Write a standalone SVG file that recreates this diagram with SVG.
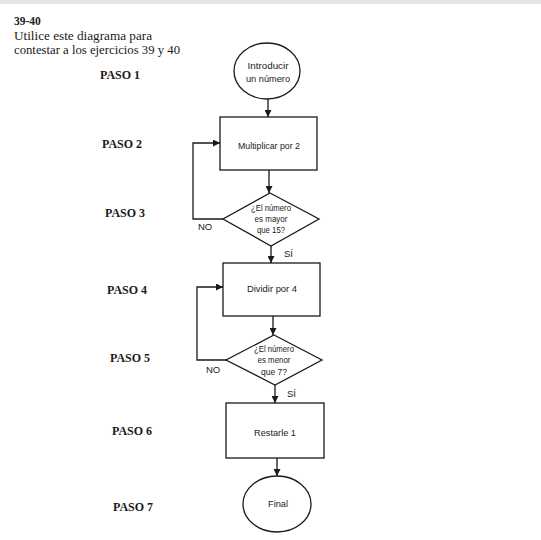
<svg xmlns="http://www.w3.org/2000/svg" width="541" height="540" viewBox="0 0 541 540">
<defs>
<marker id="ah" viewBox="0 0 8 8" refX="8" refY="4" markerWidth="7" markerHeight="7" markerUnits="userSpaceOnUse" orient="auto">
<path d="M0,0 L8,4 L0,8 Z" fill="#1a1a1a"/>
</marker>
<style>
.shape{fill:#ffffff;stroke:#1a1a1a;stroke-width:1.3}
.ln{fill:none;stroke:#1a1a1a;stroke-width:1.3}
.t{font-family:"Liberation Sans",Arial,sans-serif;font-size:9.5px;fill:#1a1a1a;text-anchor:middle}
.paso{font-family:"Liberation Serif","Times New Roman",serif;font-size:12px;font-weight:bold;fill:#1a1a1a}
.hd{font-family:"Liberation Serif","Times New Roman",serif;font-size:11.5px;fill:#1a1a1a}
.lab{font-family:"Liberation Sans",Arial,sans-serif;font-size:9.5px;fill:#1a1a1a}
</style>
</defs>
<rect width="541" height="540" fill="#ffffff"/>
<rect width="541" height="4" fill="#e6e6e6"/>

<g id="header">
<text class="hd" x="14" y="25" font-weight="bold">39-40</text>
<text class="hd" x="14" y="40" textLength="138" lengthAdjust="spacingAndGlyphs">Utilice este diagrama para</text>
<text class="hd" x="14" y="54" textLength="166" lengthAdjust="spacingAndGlyphs">contestar a los ejercicios 39 y 40</text>
</g>

<g id="pasos">
<text class="paso" x="100" y="79">PASO 1</text>
<text class="paso" x="102" y="148">PASO 2</text>
<text class="paso" x="105" y="217">PASO 3</text>
<text class="paso" x="107" y="294">PASO 4</text>
<text class="paso" x="110" y="362">PASO 5</text>
<text class="paso" x="112" y="435">PASO 6</text>
<text class="paso" x="113" y="511">PASO 7</text>
</g>

<g id="connectors">
<line class="ln" x1="268" y1="99" x2="268" y2="117" marker-end="url(#ah)"/>
<line class="ln" x1="269" y1="170" x2="269" y2="193" marker-end="url(#ah)"/>
<line class="ln" x1="271" y1="246" x2="271" y2="263" marker-end="url(#ah)"/>
<line class="ln" x1="273" y1="316" x2="273" y2="335" marker-end="url(#ah)"/>
<line class="ln" x1="275" y1="385" x2="275" y2="403" marker-end="url(#ah)"/>
<line class="ln" x1="277" y1="458" x2="277" y2="476" marker-end="url(#ah)"/>
<polyline class="ln" points="223,219 193,219 193,143 220,143" marker-end="url(#ah)"/>
<polyline class="ln" points="226,360 197,360 197,287 223,287" marker-end="url(#ah)"/>
<text class="lab" x="198" y="230">NO</text>
<text class="lab" x="284" y="257">SÍ</text>
<text class="lab" x="206" y="373">NO</text>
<text class="lab" x="287" y="397">SÍ</text>
</g>

<g id="inicio">
<ellipse class="shape" cx="267" cy="71" rx="33" ry="28"/>
<text class="t" x="268" y="69" textLength="41" lengthAdjust="spacingAndGlyphs">Introducir</text>
<text class="t" x="268" y="82" textLength="44" lengthAdjust="spacingAndGlyphs">un número</text>
</g>

<g id="paso2">
<rect class="shape" x="220" y="117" width="97" height="53"/>
<text class="t" x="269" y="149" textLength="62" lengthAdjust="spacingAndGlyphs">Multiplicar por 2</text>
</g>

<g id="paso3">
<polygon class="shape" points="270,193 319,219 271,246 223,219"/>
<text class="t" x="271" y="211" textLength="40" lengthAdjust="spacingAndGlyphs">¿El número</text>
<text class="t" x="271" y="222" textLength="33" lengthAdjust="spacingAndGlyphs">es mayor</text>
<text class="t" x="271" y="233" textLength="28" lengthAdjust="spacingAndGlyphs">que 15?</text>
</g>

<g id="paso4">
<rect class="shape" x="223" y="263" width="97" height="53"/>
<text class="t" x="272" y="292" textLength="50" lengthAdjust="spacingAndGlyphs">Dividir por 4</text>
</g>

<g id="paso5">
<polygon class="shape" points="274,335 322,360 275,385 226,360"/>
<text class="t" x="274" y="352" textLength="40" lengthAdjust="spacingAndGlyphs">¿El número</text>
<text class="t" x="274" y="363" textLength="33" lengthAdjust="spacingAndGlyphs">es menor</text>
<text class="t" x="274" y="375" textLength="26" lengthAdjust="spacingAndGlyphs">que 7?</text>
</g>

<g id="paso6">
<rect class="shape" x="226" y="403" width="98" height="55"/>
<text class="t" x="275" y="436" textLength="42" lengthAdjust="spacingAndGlyphs">Restarle 1</text>
</g>

<g id="final">
<ellipse class="shape" cx="277" cy="504" rx="34" ry="28"/>
<text class="t" x="278" y="507" textLength="20" lengthAdjust="spacingAndGlyphs">Final</text>
</g>
</svg>
